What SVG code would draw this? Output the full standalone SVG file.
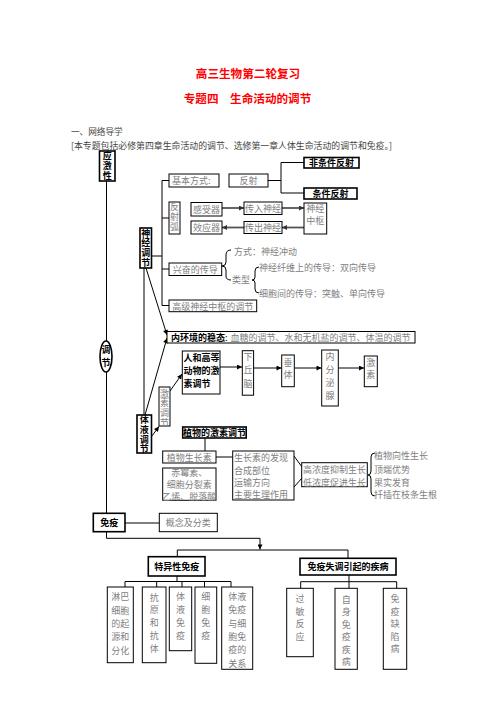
<svg xmlns="http://www.w3.org/2000/svg" width="496" height="702" viewBox="0 0 496 702">
<defs>
<style>
text{font-family:"Noto Sans CJK SC","Noto Sans CJK JP",sans-serif;dominant-baseline:central}
.g{font-size:9px;fill:#808080}
.k{font-size:9px;fill:#000;font-weight:bold}
.v{writing-mode:vertical-rl;text-anchor:middle}
.b{fill:#fff;stroke:#000;stroke-width:1}
.bb{fill:#fff;stroke:#000;stroke-width:1.6}
.ln{fill:none;stroke:#000;stroke-width:1}
.ga{fill:none;stroke:#555;stroke-width:1.8}
.t{font-size:11.6px;fill:#ff0000;font-weight:bold}
.h{font-size:8.6px;fill:#444}
</style>
<marker id="a" viewBox="0 0 10 10" refX="10" refY="5" markerWidth="6" markerHeight="5" markerUnits="userSpaceOnUse" orient="auto"><path d="M0,0L10,5L0,10z" fill="#000"/></marker>
<marker id="ag" viewBox="0 0 10 10" refX="10" refY="5" markerWidth="6" markerHeight="5" markerUnits="userSpaceOnUse" orient="auto"><path d="M0,0L10,5L0,10z" fill="#333"/></marker>
</defs>
<rect width="496" height="702" fill="#fff"/>

<g id="title">
<text class="t" x="248" y="73" text-anchor="middle">高三生物第二轮复习</text>
<text class="t" x="247.5" y="98" text-anchor="middle">专题四　生命活动的调节</text>
<text class="h" x="71" y="131">一、网络导学</text>
<text class="h" x="71" y="145" textLength="321" lengthAdjust="spacingAndGlyphs">[本专题包括必修第四章生命活动的调节、选修第一章人体生命活动的调节和免疫。]</text>
</g>

<g id="connectors">
<line class="ln" x1="106.5" y1="181" x2="106.5" y2="341"/>
<line class="ln" x1="106.5" y1="372" x2="106.5" y2="513"/>
<line class="ln" x1="151" y1="256" x2="162" y2="256"/>
<line class="ln" x1="162" y1="180.5" x2="162" y2="305.5"/>
<line class="ln" x1="162" y1="180.5" x2="169" y2="180.5"/>
<line class="ln" x1="162" y1="218" x2="169" y2="218"/>
<line class="ln" x1="162" y1="269" x2="169" y2="269"/>
<line class="ln" x1="162" y1="305.5" x2="169" y2="305.5"/>
<path class="ln" d="M268,180.5H281M281,162.5V193M281,162.5H304M281,193H304"/>
<line class="ga" x1="222" y1="208" x2="244" y2="208" marker-end="url(#ag)"/>
<line class="ga" x1="282" y1="208" x2="304" y2="208" marker-end="url(#ag)"/>
<line class="ga" x1="304" y1="227.5" x2="282" y2="227.5" marker-end="url(#ag)"/>
<line class="ga" x1="244" y1="227.5" x2="222" y2="227.5" marker-end="url(#ag)"/>
<path class="ln" d="M231,250Q226,250 226,255L226,262Q226,266 222,266Q226,266 226,270L226,276Q226,280 231,280"/>
<path class="ln" d="M259,267Q255,267 255,271L255,277Q255,280 252,280Q255,280 255,283L255,289Q255,293 259,293"/>
<line class="ln" x1="146" y1="268" x2="167" y2="335" marker-end="url(#a)"/>
<line class="ln" x1="145" y1="415" x2="167" y2="338" marker-end="url(#a)"/>
<line class="ln" x1="144" y1="268" x2="144" y2="415"/>
<line class="ln" x1="220" y1="367" x2="242" y2="367" marker-end="url(#a)"/>
<line class="ln" x1="253.5" y1="368" x2="281.5" y2="368" marker-end="url(#a)"/>
<line class="ln" x1="294.5" y1="368" x2="321.5" y2="368" marker-end="url(#a)"/>
<line class="ln" x1="338.5" y1="368" x2="364" y2="368" marker-end="url(#a)"/>
<line class="ln" x1="151.5" y1="436.5" x2="159" y2="426.5" marker-end="url(#a)"/>
<line class="ln" x1="170" y1="391" x2="182" y2="374" marker-end="url(#a)"/>
<line class="ln" x1="205" y1="438" x2="205" y2="451"/>
<line class="ln" x1="216" y1="457" x2="232.7" y2="457"/>
<path class="ln" d="M294,456L302,467M302,478L294,487"/>
<path class="ln" d="M375,453Q371,453 371,457L371,471Q371,475 368,475Q371,475 371,479L371,492Q371,496 375,496"/>
<line class="ln" x1="125" y1="523" x2="159.3" y2="523"/>
<path class="ln" d="M106.5,531.7V538.3H260V549.5" marker-end="url(#a)"/>
<path class="ln" d="M177.3,556.7V550H348V558.3"/>
<path class="ln" d="M177,576V581.5M125,588V581.5H231V588M156.7,581.5V588M182,581.5V588M204.5,581.5V588"/>
<path class="ln" d="M349,575V581.7M300.7,588.3V581.7H396.7V588.3M349,581.7V588.3"/>
</g>

<g id="yingjixing"><rect class="bb" x="99.5" y="151" width="15.5" height="30"/>
<text class="k v" x="107.2" y="166" font-size="8.8" letter-spacing="0.7">应激性</text></g>

<g id="tiaojie"><ellipse class="bb" cx="106" cy="356.5" rx="6" ry="15.5"/>
<text class="k v" x="106" y="358" font-size="9.5" letter-spacing="3.5">调节</text></g>

<g id="shenjing"><rect class="bb" x="140" y="228" width="11.5" height="40"/>
<text class="k v" x="145.8" y="248.1" font-size="8.8" letter-spacing="0.7">神经调节</text></g>

<g id="jiben"><rect class="b" x="169" y="174" width="50" height="13"/><text class="g" x="172" y="180.5">基本方式:</text></g>
<g id="fanshe"><rect class="b" x="229" y="174" width="39" height="13"/><text class="g" x="248.5" y="180.5" text-anchor="middle">反射</text></g>
<g id="feitiaojian"><rect class="bb" x="304" y="157.5" width="55" height="10.5"/><text class="k" x="331.5" y="162.8" text-anchor="middle">非条件反射</text></g>
<g id="tiaojianfanshe"><rect class="bb" x="304" y="188" width="53" height="11"/><text class="k" x="330.5" y="193.5" text-anchor="middle" font-size="9.5">条件反射</text></g>
<g id="fanshehu"><rect class="b" x="169" y="202" width="11" height="32"/>
<text class="g v" x="174.5" y="217.5" letter-spacing="1">反射弧</text></g>
<g id="ganshouqi"><rect class="b" x="191" y="202.5" width="31" height="13.5"/><text class="g" x="206.5" y="209.3" text-anchor="middle">感受器</text></g>
<g id="xiaoyingqi"><rect class="b" x="191" y="221" width="31" height="13"/><text class="g" x="206.5" y="227.5" text-anchor="middle">效应器</text></g>
<g id="chuanru"><rect class="b" x="244" y="202" width="38" height="12.5"/><text class="g" x="263" y="208.3" text-anchor="middle">传入神经</text></g>
<g id="chuanchu"><rect class="b" x="244" y="221.5" width="38" height="12"/><text class="g" x="263" y="227.5" text-anchor="middle">传出神经</text></g>
<g id="zhongshu"><rect class="b" x="304" y="203" width="22.7" height="31"/>
<text class="g" text-anchor="middle"><tspan x="315.3" y="208">神经</tspan><tspan x="315.3" y="220">中枢</tspan></text></g>

<g id="xingfen"><rect class="b" x="169" y="263" width="52.7" height="12.5"/><text class="g" x="195.3" y="269.3" text-anchor="middle">兴奋的传导</text></g>
<g id="xingfen-notes">
<text class="g" font-size="8.8" x="234" y="251">方式：神经冲动</text>
<text class="g" font-size="8.8" x="232" y="279">类型</text>
<text class="g" font-size="8.8" x="259" y="267">神经纤维上的传导：双向传导</text>
<text class="g" font-size="8.8" x="259" y="293">细胞间的传导：突触、单向传导</text>
</g>
<g id="gaoji"><rect class="b" x="169" y="300" width="87.7" height="11.7"/><text class="g" x="212.8" y="306" text-anchor="middle">高级神经中枢的调节</text></g>

<g id="neihuanjing"><rect class="b" x="167" y="331.5" width="248" height="11.5" stroke-width="1.3"/>
<text x="171" y="337.3" font-size="9"><tspan font-weight="bold" fill="#000">内环境的稳态</tspan><tspan fill="#000">:</tspan><tspan fill="#808080" dx="3">血糖的调节、水和无机盐的调节、体温的调节</tspan></text></g>

<g id="renhe"><rect class="b" x="182.3" y="351" width="37.7" height="43" stroke-width="1.3"/>
<text class="k"><tspan x="183.5" y="356.5">人和高等</tspan><tspan x="183.5" y="369.5">动物的激</tspan><tspan x="183.5" y="382.7">素调节</tspan></text></g>
<g id="xiaqiunao"><rect class="b" x="242.3" y="350.7" width="11.3" height="44.5"/>
<text class="g v" x="248" y="372" font-size="9.5" letter-spacing="4.2">下丘脑</text></g>
<g id="chuiti"><rect class="b" x="281.7" y="355" width="12.6" height="31.7"/>
<text class="g v" x="288" y="369.8" font-size="9.5" letter-spacing="3">垂体</text></g>
<g id="neifenmi"><rect class="b" x="321.7" y="350" width="16.6" height="56"/>
<text class="g v" x="330" y="377.7" font-size="9.5" letter-spacing="4">内分泌腺</text></g>
<g id="jisu"><rect class="b" x="364.3" y="356" width="13" height="30.7"/>
<text class="g v" x="370.8" y="370.2" font-size="9.5" letter-spacing="3.5">激素</text></g>

<g id="jisutiaojie"><rect class="b" x="159" y="387" width="11" height="39"/>
<text class="g v" x="164.5" y="408" font-size="8" letter-spacing="0.6">激素调节</text></g>
<g id="tiye"><rect class="bb" x="137" y="415" width="14.5" height="38"/>
<text class="k v" x="144.2" y="434.6" font-size="8.8" letter-spacing="0.7">体液调节</text></g>

<g id="zhiwujisu"><rect class="bb" x="182.7" y="427" width="63.5" height="11"/><text class="k" font-size="8.7" x="214.5" y="432.5" text-anchor="middle">植物的激素调节</text></g>
<g id="shengzhangsu"><rect class="b" x="162.7" y="451" width="53.3" height="12"/><text class="g" x="189.3" y="457" text-anchor="middle">植物生长素</text></g>
<g id="chimei"><rect class="b" x="162.7" y="468" width="53.3" height="32.3"/>
<text class="g" font-size="7.1" x="189.3" y="472.3" text-anchor="middle">赤霉素、</text>
<text class="g" font-size="7.1" x="189.3" y="484.2" text-anchor="middle">细胞分裂素</text>
<text class="g" font-size="7.1" x="189.3" y="496.1" text-anchor="middle">乙烯、脱落酸</text></g>
<g id="faxian"><rect class="b" x="232.7" y="451" width="61.3" height="49"/>
<text class="g" font-size="8.9"><tspan x="234" y="456.7">生长素的发现</tspan><tspan x="234" y="469.5">合成部位</tspan><tspan x="234" y="481.5">运输方向</tspan><tspan x="234" y="494">主要生理作用</tspan></text></g>
<g id="nongdu"><rect class="b" x="301.7" y="462.7" width="65.6" height="24"/>
<text class="g"><tspan x="303" y="468.5">高浓度抑制生长</tspan><tspan x="303" y="481.5">低浓度促进生长</tspan></text></g>
<g id="yingyong">
<text class="g" font-size="8.8"><tspan x="374" y="455">植物向性生长</tspan><tspan x="374" y="468.5">顶端优势</tspan><tspan x="374" y="481.5">果实发育</tspan><tspan x="374" y="494">扦插在枝条生根</tspan></text></g>

<g id="mianyi"><rect class="bb" x="93.3" y="513.3" width="31.7" height="18.4"/><text class="k" font-size="9.2" x="109.2" y="522.5" text-anchor="middle">免疫</text></g>
<g id="gainian"><rect class="b" x="159.3" y="513.3" width="58" height="18.4"/><text class="g" x="188.3" y="522.5" text-anchor="middle">概念及分类</text></g>

<g id="teyixing"><rect class="bb" x="148.3" y="556.7" width="56.7" height="19.3"/><text class="k" font-size="9.2" x="176.7" y="566.3" text-anchor="middle">特异性免疫</text></g>
<g id="shitiao"><rect class="bb" x="300" y="558.3" width="96" height="16.7"/><text class="k" font-size="9.3" x="348" y="566.7" text-anchor="middle">免疫失调引起的疾病</text></g>

<g id="linba"><rect class="b" x="107.3" y="587" width="26" height="75.7"/>
<text class="g" font-size="9.3" text-anchor="middle"><tspan x="120.3" y="596">淋巴</tspan><tspan x="120.3" y="609.5">细胞</tspan><tspan x="120.3" y="623">的起</tspan><tspan x="120.3" y="636.3">源和</tspan><tspan x="120.3" y="649.6">分化</tspan></text></g>
<g id="kangyuan"><rect class="b" x="142.3" y="587" width="23.7" height="75.7"/>
<text class="g v" x="154.2" y="624.6" font-size="9.5" letter-spacing="3.8">抗原和抗体</text></g>
<g id="tiyemianyi"><rect class="b" x="169.3" y="587" width="22.4" height="63.7"/>
<text class="g v" x="180.5" y="617.9" font-size="9.5" letter-spacing="3.8">体液免疫</text></g>
<g id="xibaomianyi"><rect class="b" x="195" y="587" width="21.7" height="76.3"/>
<text class="g v" x="205.8" y="617.9" font-size="9.5" letter-spacing="3.8">细胞免疫</text></g>
<g id="guanxi"><rect class="b" x="221.7" y="587" width="31" height="82.3"/>
<text class="g" font-size="9.3" text-anchor="middle"><tspan x="237.2" y="596">体液</tspan><tspan x="237.2" y="609.3">免疫</tspan><tspan x="237.2" y="622.6">与细</tspan><tspan x="237.2" y="635.9">胞免</tspan><tspan x="237.2" y="649.2">疫的</tspan><tspan x="237.2" y="662.5">关系</tspan></text></g>

<g id="guomin"><rect class="b" x="286.7" y="588.3" width="26.6" height="68.4"/>
<text class="g v" x="300" y="619.3" font-size="9.5" letter-spacing="3.5">过敏反应</text></g>
<g id="zishen"><rect class="b" x="335" y="588.3" width="22.3" height="81"/>
<text class="g v" x="346.2" y="632.2" font-size="9.5" letter-spacing="3.5">自身免疫疾病</text></g>
<g id="quexian"><rect class="b" x="383.3" y="588.3" width="23.4" height="81"/>
<text class="g v" x="395" y="625.7" font-size="9.5" letter-spacing="3.5">免疫缺陷病</text></g>
</svg>
